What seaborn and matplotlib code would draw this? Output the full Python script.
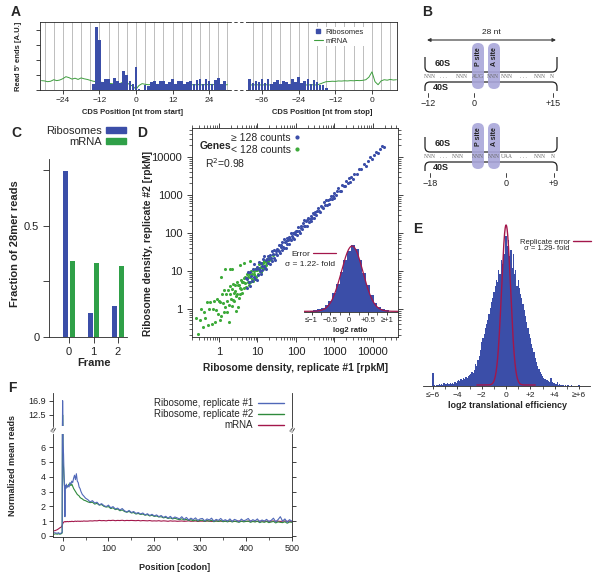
import numpy as np
import pandas as pd
import matplotlib
matplotlib.use("Agg")
import matplotlib.pyplot as plt
import seaborn as sns
from matplotlib.lines import Line2D
from matplotlib.patches import FancyBboxPatch, PathPatch, Patch
from matplotlib.path import Path
from matplotlib.ticker import LogLocator, NullFormatter, FixedLocator

# ---------------- data ----------------
# Panel A: read 5' ends around start / stop codons
a_start_pos = list(range(-14, 30))
a_start_ribo = [.40, 4.15, 3.30, .55, .75, .75, .40, .80, .60, .45,
                1.25, 1.00, .60, .40, 1.55, .05, .00, .30, .25, .50,
                .60, .40, .60, .60, .40, .55, .70, .40, .60, .60,
                .40, .55, .60, .40, .65, .70, .40, .70, .60, .40,
                .65, .80, .40, .60]
a_start_mrna_pos = list(range(-31, 31))
a_start_mrna = [.62, .60, .55, .58, .68, .62, .66, .75, .88, .82,
                .72, .78, .70, .80, .74, .70, .64, .58, .55, .52,
                .50, .48, .45, .42, .40, .38, .45, .55, .48, .35, .25,
                .05, .30, .42, .38, .35, .36, .34, .37, .35, .33,
                .36, .35, .34, .37, .35, .36, .34, .35, .37, .33,
                .36, .35, .34, .36, .35, .37, .34, .35, .36, .34, .35]
a_stop_pos = list(range(-40, -14))
a_stop_ribo = [.75, .45, .60, .50, .70, .45, .75, .40, .55, .65,
               .40, .60, .55, .40, .70, .50, .85, .45, .60, .75,
               .40, .65, .55, .35, .30, .15]
a_stop_mrna_pos = list(range(-40, 9))
a_stop_mrna = [.34, .33, .35, .34, .33, .35, .34, .33, .35, .34,
               .33, .35, .34, .33, .35, .34, .33, .35, .34, .33,
               .35, .34, .33, .40, .48, .55,
               .56, .58, .57, .60, .59, .61, .60, .62, .61, .63,
               .62, .64, .68, .85, 1.20, .55, .35, .60, .68, .65,
               .70, .66, .68]

# Panel B: schematic labels
b_top_seq = ["NNN", ". . .", "NNN", "AUG", "NNN", "NNN", ". . .", "NNN", "N"]
b_bot_seq = ["NNN", ". . .", "NNN", "NNN", "NNN", "UAA", ". . .", "NNN", "N"]
b_top_ticklabels = ["\u221212", "0", "+15"]
b_bot_ticklabels = ["\u221218", "0", "+9"]

# Panel C: frame of 28mer reads
frames = [0, 1, 2]
ribo_frac = [0.745, 0.107, 0.141]
mrna_frac = [0.342, 0.333, 0.317]

# Panel D: replicate scatter (log10 rep#1, log10 ratio rep#2/rep#1)
blue_logx = [0.70, 0.72, 0.74, 0.76, 0.78, 0.80, 0.82, 0.84, 0.86, 0.88, 0.90, 0.92, 0.94, 0.96, 0.98,
             1.00, 1.02, 1.03, 1.05, 1.07, 1.08, 1.10, 1.12, 1.13, 1.15, 1.17, 1.18, 1.20, 1.22, 1.23,
             1.25, 1.27, 1.28, 1.30, 1.32, 1.33, 1.35, 1.37, 1.38, 1.40, 1.42, 1.43, 1.45, 1.47, 1.48,
             1.50, 1.52, 1.53, 1.55, 1.57, 1.58, 1.60, 1.62, 1.63, 1.65, 1.67, 1.68, 1.70, 1.72, 1.73,
             1.75, 1.77, 1.78, 1.80, 1.82, 1.83, 1.85, 1.87, 1.88, 1.90, 1.92, 1.93, 1.95, 1.97, 1.98,
             2.00, 2.02, 2.04, 2.06, 2.08, 2.10, 2.12, 2.14, 2.16, 2.18, 2.20, 2.22, 2.24, 2.26, 2.28,
             2.30, 2.32, 2.34, 2.36, 2.38, 2.40, 2.42, 2.44, 2.46, 2.48,
             2.50, 2.53, 2.55, 2.58, 2.60, 2.63, 2.65, 2.68, 2.70, 2.73, 2.75, 2.78, 2.80, 2.83, 2.85,
             2.88, 2.90, 2.93, 2.95, 2.98,
             3.00, 3.04, 3.07, 3.10, 3.14, 3.17, 3.20, 3.24, 3.27, 3.30, 3.34, 3.37, 3.40, 3.44, 3.47,
             3.52, 3.58, 3.64, 3.70, 3.76, 3.82, 3.88, 3.93, 3.98, 4.03, 4.08, 4.13, 4.18, 4.23, 4.28]
blue_logratio = [.12, -.18, .05, .22, -.08, -.20, .15, .02, -.12, .18, -.05, .25, -.15, .08, -.22,
                 .10, -.14, .03, .18, -.06, -.17, .12, .00, -.10, .15, -.04, .20, -.12, .07, -.19,
                 .05, .13, -.08, .02, -.15, .09, -.02, .16, -.11, .04, -.07, .11, -.16, .06, -.03,
                 .08, -.10, .03, .13, -.05, -.12, .09, .00, -.08, .11, -.03, .15, -.09, .05, -.14,
                 .04, .10, -.06, .02, -.11, .07, -.02, .12, -.08, .03, -.05, .08, -.12, .05, -.02,
                 .06, -.08, .02, .10, -.04, -.09, .07, .00, -.06, .08, -.02, .11, -.07, .04, -.10,
                 .03, .08, -.05, .01, -.08, .05, -.02, .09, -.06, .02,
                 .05, -.06, .02, .08, -.03, -.07, .06, .00, -.05, .07, -.02, .09, -.06, .03, -.08,
                 .02, .06, -.04, .01, -.06,
                 .04, -.05, .02, .07, -.03, -.06, .05, .00, -.04, .06, -.02, .07, -.05, .03, -.06,
                 .03, -.04, .05, -.02, .04, -.05, .02, .06, -.03, .01, .04, -.02, .03, .05, -.01]
green_logx = [-0.60, -0.55, -0.50, -0.46, -0.42, -0.38, -0.35, -0.31, -0.28, -0.25,
              -0.22, -0.19, -0.16, -0.13, -0.10, -0.08, -0.05, -0.03, 0.00, 0.02,
              0.04, 0.06, 0.08, 0.10, 0.12, 0.14, 0.16, 0.18, 0.20, 0.22,
              0.24, 0.26, 0.28, 0.30, 0.31, 0.33, 0.34, 0.36, 0.37, 0.39,
              0.40, 0.42, 0.43, 0.45, 0.46, 0.48, 0.49, 0.51, 0.52, 0.54,
              0.55, 0.57, 0.58, 0.60, 0.61, 0.63, 0.64, 0.66, 0.67, 0.69,
              0.70, 0.72, 0.73, 0.75, 0.76, 0.78, 0.79, 0.81, 0.82, 0.84,
              0.85, 0.87, 0.88, 0.90, 0.91, 0.93, 0.94, 0.96, 0.97, 0.99,
              1.00, 1.02, 1.03, 1.05, 1.06, 1.08, 1.09, 1.11, 1.12, 1.14,
              1.15, 1.17, 1.19, 1.21, 1.23, 1.25, 1.28, 1.31, 1.35, 1.40,
              0.15, 0.35, 0.55, 0.25, 0.65, 0.45, 0.80, 0.05, 0.50, 0.30]
green_logratio = [.35, -.10, .20, .45, -.05, .30, .10, .50, -.15, .25,
                  .40, -.20, .15, .35, -.25, .05, .30, -.10, .20, -.30,
                  .15, -.25, .30, .05, -.20, .35, -.10, .20, .00, -.30,
                  .25, -.15, .10, .30, -.05, -.25, .18, -.12, .28, .02,
                  -.18, .22, .05, -.12, .25, -.08, .15, -.22, .10, .02,
                  -.15, .20, -.05, .12, -.20, .08, .18, -.10, .00, .15,
                  -.12, .10, .18, -.05, .08, -.15, .12, .02, -.10, .15,
                  -.06, .05, -.14, .10, .00, .12, -.08, .06, -.12, .04,
                  .08, -.10, .05, .12, -.06, .02, -.12, .09, -.03, .06,
                  -.09, .10, -.05, .03, -.08, .07, -.02, .05, -.06, .03,
                  .90, .70, .60, -.60, .55, -.50, .45, .80, -.45, .75]
ratio_centers = [-1.0, -0.9, -0.8, -0.7, -0.6, -0.5, -0.4, -0.3, -0.2, -0.1, 0.0,
                 0.1, 0.2, 0.3, 0.4, 0.5, 0.6, 0.7, 0.8, 0.9, 1.0]
ratio_heights = [.02, .03, .04, .06, .10, .17, .28, .42, .60, .78, .92,
                 1.00, .95, .78, .58, .40, .25, .14, .08, .04, .03]
rep_sigma_fold = 1.22

# Panel E: log2 translational efficiency histogram (bins of 0.1 from -6 to +6)
te_heights = ([13] +
              [1, 0, 1, 1, 2, 1, 2, 1, 3, 2, 2, 3, 2, 3] +
              [2, 3, 2, 4, 3, 5] +
              [6, 5, 7, 6, 8, 7, 9, 8, 10, 11] +
              [12, 14, 13, 16, 22, 20, 26, 30, 36, 44] +
              [48, 52, 58, 62, 66, 72, 78, 84, 88, 94] +
              [100, 106, 104, 116, 112, 126, 122, 138, 132, 150] +
              [140, 146, 130, 136, 118, 132, 112, 116, 100, 106] +
              [98, 92, 88, 82, 76, 70, 64, 58, 52, 48] +
              [42, 38, 34, 28, 24, 20, 17, 14, 12, 10] +
              [8, 7, 6, 6, 5, 4, 8, 4, 3, 3] +
              [2, 4, 1, 2, 1] +
              [1, 1, 0, 1, 0, 1, 0, 0, 1, 0, 0, 0, 0, 0, 1])
te_sigma_fold = 1.29

# Panel F: metagene profile
f_pos = [-18, -15, -12, -9, -6, -3, -1, 0, 1, 2, 3, 4, 5, 6, 7, 8, 10, 12, 14, 16,
         18, 20, 22, 24, 26, 28, 30, 32, 34, 36, 38, 40, 43, 46, 50] + list(range(55, 501, 5))
f_rep1 = [.22, .20, .18, .22, .15, .20, .25, 16.9, 6.3, 5.5,
          4.2, 3.3, 1.3, 3.4, 3.2, 3.5, 3.3, 3.4, 3.3, 3.6,
          3.5, 3.7, 3.6, 3.9, 4.1, 3.8, 4.2, 3.7, 3.6, 3.3,
          3.2, 3.0, 2.8, 2.7, 2.55,
          2.45, 2.30, 2.38, 2.22, 2.28, 2.10, 2.18, 2.05, 1.98, 2.08,
          1.90, 1.98, 1.82, 1.88, 1.75, 1.85, 1.70, 1.62, 1.72, 1.58,
          1.65, 1.52, 1.58, 1.48, 1.55, 1.42, 1.50, 1.38, 1.46, 1.35,
          1.42, 1.30, 1.38, 1.25, 1.33, 1.20, 1.32, 1.18, 1.28, 1.22,
          1.15, 1.30, 1.12, 1.25, 1.08, 1.20, 1.10, 1.22, 1.05, 1.15,
          1.18, 1.02, 1.15, 1.08, 1.20, 1.00, 1.12, 1.05, 1.18, 1.02,
          1.10, 1.00, 1.15, 0.98, 1.12, 1.05, 0.96, 1.14, 1.02, 1.08,
          1.18, 0.98, 1.10, 1.02, 1.15, 0.95, 1.08, 1.00, 1.12, 0.98,
          1.05, 1.20, 0.95, 1.10, 1.30, 1.00, 1.15, 0.92, 1.10, 1.00]
f_rep2 = [.12, .15, .12, .15, .12, .15, .20, 12.5, 5.0, 4.6,
          3.9, 3.4, 3.2, 3.3, 3.3, 3.4, 3.3, 3.4, 3.5, 3.5,
          3.4, 3.5, 3.35, 3.2, 3.1, 3.0, 2.9, 2.8, 2.75, 2.7,
          2.6, 2.55, 2.5, 2.42, 2.38,
          2.30, 2.25, 2.28, 2.15, 2.20, 2.08, 2.12, 2.00, 1.95, 1.98,
          1.85, 1.90, 1.78, 1.82, 1.70, 1.76, 1.65, 1.60, 1.66, 1.55,
          1.58, 1.48, 1.52, 1.45, 1.48, 1.40, 1.44, 1.35, 1.40, 1.32,
          1.35, 1.28, 1.30, 1.22, 1.26, 1.18, 1.22, 1.15, 1.20, 1.14,
          1.10, 1.16, 1.08, 1.12, 1.04, 1.10, 1.02, 1.08, 1.00, 1.05,
          1.06, 0.98, 1.04, 1.00, 1.06, 0.96, 1.02, 0.98, 1.04, 0.96,
          1.00, 0.95, 1.02, 0.94, 1.00, 0.96, 0.92, 1.00, 0.95, 0.98,
          1.00, 0.92, 0.98, 0.94, 1.00, 0.90, 0.96, 0.92, 0.98, 0.90,
          0.94, 0.98, 0.88, 0.95, 0.92, 0.90, 0.96, 0.86, 0.94, 0.92]
f_mrna = [.35, .38, .42, .48, .55, .60, .70, .80, .88, .92,
          .95, .96, .97, .95, .97, .96, .98, .96, .97, .98,
          .97, .99, .98, .97, .99, 1.0, .98, 1.0, .99, 1.0,
          .98, 1.0, .99, 1.01, 1.0,
          1.00, 1.02, 1.01, 1.03, 1.02, 1.05, 1.03, 1.04, 1.02, 1.05,
          1.04, 1.06, 1.03, 1.05, 1.04, 1.06, 1.03, 1.05, 1.04, 1.05,
          1.04, 1.03, 1.05, 1.02, 1.04, 1.03, 1.02, 1.04, 1.01, 1.02,
          1.01, 1.03, 1.00, 1.02, 1.01, 0.99, 1.02, 1.00, 1.01, 0.99,
          1.00, 1.01, 0.99, 1.00, 1.02, 0.99, 1.00, 1.01, 0.98, 1.00,
          1.00, 0.99, 1.01, 1.00, 0.98, 1.00, 1.01, 0.99, 1.00, 0.98,
          1.00, 1.01, 0.99, 1.00, 0.98, 1.00, 1.01, 0.99, 1.00, 0.98,
          1.00, 1.01, 0.99, 1.00, 0.98, 1.00, 1.01, 0.99, 1.00, 0.98,
          1.00, 1.01, 0.99, 1.00, 0.98, 1.00, 1.01, 0.99, 1.00, 0.98]

# ---------------- style ----------------
sns.set_style("ticks")
plt.rcParams['font.family'] = ['Liberation Sans', 'DejaVu Sans']
plt.rcParams['axes.linewidth'] = 0.6
for k in ('xtick', 'ytick'):
    plt.rcParams[f'{k}.major.width'] = 0.6
    plt.rcParams[f'{k}.minor.width'] = 0.5
    plt.rcParams[f'{k}.color'] = '#222222'

BLUE = "#3B4EA8"
GREEN_A = "#3E9E3E"
GREEN_C = "#2FA048"
GREEN_D = "#3DAA3A"
GREEN_F = "#2F8A3C"
BLUE_F = "#5068B8"
RED = "#A3174B"
LAV = "#A9A6DA"
DARK = "#222222"

W, H = 600, 580
fig = plt.figure(figsize=(6, 5.8), dpi=100)


def px_axes(l, t, r, b):
    return fig.add_axes([l / W, 1 - b / H, (r - l) / W, (b - t) / H])


def fpt(x, y):
    return (x / W, 1 - y / H)


def ftext(x, y, s, **kw):
    kw.setdefault('va', 'center')
    return fig.text(x / W, 1 - y / H, s, **kw)


def place_label(ax, which, x, y):
    bb = ax.get_position()
    fx = (x / W - bb.x0) / bb.width
    fy = ((1 - y / H) - bb.y0) / bb.height
    if which == 'x':
        ax.xaxis.set_label_coords(fx, fy)
    else:
        ax.yaxis.set_label_coords(fx, fy)


def weighted_hist(ax, centers, heights, lo, hi, nbins, color):
    df = pd.DataFrame({'v': np.asarray(centers, float), 'w': np.asarray(heights, float)})
    sns.histplot(data=df, x='v', weights='w', bins=nbins, binrange=(lo, hi), color=color,
                 alpha=1, linewidth=0, ax=ax)


# ---------------- Panel A ----------------
axA1 = px_axes(40, 22, 228, 90)
axA2 = px_axes(248, 22, 397, 90)
specs = [(axA1, a_start_pos, a_start_ribo, a_start_mrna_pos, a_start_mrna, (-31.5, 30.2), range(-30, 31, 3),
          range(-24, 25, 12), "CDS Position [nt from start]", 133),
         (axA2, a_stop_pos, a_stop_ribo, a_stop_mrna_pos, a_stop_mrna, (-40.6, 8.2), range(-39, 9, 3),
          range(-36, 1, 12), "CDS Position [nt from stop]", 322)]
for ax, pos, ribo, mpos, mrna, xl, grid, ticks, lab, labx in specs:
    for g in grid:
        ax.axvline(g, color='#BDBDBD', lw=0.7, zorder=0)
    sns.lineplot(x=mpos, y=mrna, color=GREEN_A, lw=0.7, ax=ax, zorder=1.5)
    sns.barplot(x=pos, y=ribo, native_scale=True, color=BLUE, saturation=1, width=0.88,
                errorbar=None, linewidth=0, ax=ax, zorder=2)
    ax.set_xlim(*xl)
    ax.set_ylim(0, 4.5)
    ax.set_xticks(list(ticks))
    ax.tick_params(axis='x', labelsize=6, length=3, pad=2)
    ax.set_xlabel(lab, fontsize=5.5, fontweight='bold', va='center')
    place_label(ax, 'x', labx, 113)
    ax.set_ylabel("")
axA1.spines['right'].set_visible(False)
axA1.set_yticks([0, 1, 2, 3, 4])
axA1.set_yticklabels([])
axA1.tick_params(axis='y', length=3)
axA1.set_ylabel("Read 5' ends [A.U.]", fontsize=5.5, fontweight='bold', va='center')
place_label(axA1, 'y', 18, 56)
axA2.spines['left'].set_visible(False)
axA2.set_yticks([])
axA2.legend(handles=[Line2D([], [], marker='s', ls='none', color=BLUE, markersize=3.5),
                     Line2D([], [], color=GREEN_A, lw=0.8)],
            labels=["Ribosomes", "mRNA"], fontsize=5.5, loc='upper left',
            bbox_to_anchor=fpt(312, 27), bbox_transform=fig.transFigure,
            frameon=True, facecolor='white', edgecolor='none', framealpha=1,
            borderpad=0.2, borderaxespad=0, handlelength=1.2, handletextpad=0.4,
            labelspacing=0.2, fancybox=False)
for yy in (22, 90):
    fig.add_artist(Line2D([228 / W, 248 / W], [1 - yy / H, 1 - yy / H], color=DARK, lw=0.6,
                          ls=(0, (4, 3))))

# ---------------- Panel B (schematic) ----------------
axB = px_axes(420, 0, 600, 215)
axB.set_xlim(420, 600)
axB.set_ylim(215, 0)
axB.axis('off')


def u_bracket(ax, x0, x1, y_open, y_line, r=5):
    s = 1 if y_line > y_open else -1
    verts = [(x0, y_open), (x0, y_line - s * r), (x0, y_line), (x0 + r, y_line),
             (x1 - r, y_line), (x1, y_line), (x1, y_line - s * r), (x1, y_open)]
    codes = [Path.MOVETO, Path.LINETO, Path.CURVE3, Path.CURVE3, Path.LINETO,
             Path.CURVE3, Path.CURVE3, Path.LINETO]
    ax.add_patch(PathPatch(Path(verts, codes), fill=False, lw=0.9, color=DARK, zorder=1))


def diagram(ax, dy, seq, seq_x, tick_x, tick_labels):
    for cx, lab in [(478, "P site"), (494, "A site")]:
        ax.add_patch(FancyBboxPatch((cx - 6, 43 + dy), 12, 46, boxstyle="round,pad=0,rounding_size=6",
                                    fc=LAV, ec='none', alpha=0.9, zorder=2))
        ax.text(cx, 57 + dy, lab, rotation=90, ha='center', va='center', fontsize=5,
                fontweight='bold', color=DARK, zorder=4)
    u_bracket(ax, 425, 557, 57 + dy, 72 + dy)
    u_bracket(ax, 425, 557, 91 + dy, 82 + dy)
    ax.text(435, 64 + dy, "60S", fontsize=6.5, fontweight='bold', va='center', color=DARK)
    ax.text(433, 88 + dy, "40S", fontsize=6.5, fontweight='bold', va='center', color=DARK)
    for s, x in zip(seq, seq_x):
        ax.text(x, 77 + dy, s, fontsize=4, ha='center', va='center', color='#666666',
                family='Liberation Serif', zorder=3)
    for x, lab in zip(tick_x, tick_labels):
        ax.plot([x, x], [93 + dy, 97 + dy], color=DARK, lw=0.6)
        ax.text(x, 103 + dy, lab, fontsize=6.5, ha='center', va='center', color=DARK)


diagram(axB, 0, b_top_seq, [430, 443, 462, 478, 493, 507, 523, 540, 552], [428, 474, 553], b_top_ticklabels)
diagram(axB, 80, b_bot_seq, [430, 443, 458, 478, 494, 507, 523, 540, 553], [430, 506, 554], b_bot_ticklabels)
axB.annotate('', xy=(556, 40), xytext=(427, 40),
             arrowprops=dict(arrowstyle='<|-|>', lw=0.8, color='#333333', mutation_scale=5,
                             shrinkA=0, shrinkB=0))
axB.text(491, 33, "28 nt", fontsize=6, ha='center', va='center', color=DARK)

# ---------------- Panel C ----------------
axC = px_axes(49, 159, 127, 337)
dfC = pd.DataFrame({'Frame': frames * 2, 'Fraction': ribo_frac + mrna_frac,
                    'Sample': ['Ribosomes'] * 3 + ['mRNA'] * 3})
sns.barplot(data=dfC, x='Frame', y='Fraction', hue='Sample', palette=[BLUE, GREEN_C], saturation=1,
            width=0.55, gap=0.25, errorbar=None, legend=False, linewidth=0, ax=axC)
axC.set_xlim(-0.82, 2.37)
axC.set_ylim(0, 0.8)
sns.despine(ax=axC)
axC.set_yticks([0, 0.25, 0.5, 0.75], labels=["0", "", "0.5", ""])
axC.tick_params(labelsize=8, length=4, pad=3)
axC.set_xlabel("Frame", fontsize=8, fontweight='bold', va='center')
axC.set_ylabel("Fraction of 28mer reads", fontsize=8, fontweight='bold', va='center')
place_label(axC, 'x', 94, 363)
place_label(axC, 'y', 15, 244)
axC.legend(handles=[Patch(color=BLUE), Patch(color=GREEN_C)], labels=["Ribosomes", "mRNA"],
           fontsize=8, markerfirst=False, frameon=False, loc='upper right',
           bbox_to_anchor=fpt(126, 126), bbox_transform=fig.transFigure, borderpad=0,
           borderaxespad=0, handlelength=1.8, handleheight=0.45, handletextpad=0.4, labelspacing=0.1)

# ---------------- Panel D ----------------
axD = px_axes(192, 128, 398, 337)
axD.set_xscale('log')
axD.set_yscale('log')
gx = np.array(green_logx)
gr = np.array(green_logratio)
bxv = np.array(blue_logx)
brv = np.array(blue_logratio)
sns.scatterplot(x=10 ** gx, y=10 ** (gx + gr), color=GREEN_D, s=5, linewidth=0, ax=axD)
sns.scatterplot(x=10 ** bxv, y=10 ** (bxv + brv), color=BLUE, s=5, linewidth=0, ax=axD)
axD.set_xlim(0.2, 10 ** 4.65)
axD.set_ylim(10 ** -0.74, 10 ** 4.76)
dec = [1, 10, 100, 1000, 10000]
axD.set_xticks(dec, labels=[str(d) for d in dec])
axD.set_yticks(dec, labels=[str(d) for d in dec])
for a in (axD.xaxis, axD.yaxis):
    a.set_minor_locator(LogLocator(base=10, subs=range(2, 10), numticks=20))
    a.set_minor_formatter(NullFormatter())
axD.tick_params(which='both', top=True, right=True, direction='out', labelsize=8)
axD.tick_params(which='major', length=3.5)
axD.tick_params(which='minor', length=2)
axD.set_xlabel("Ribosome density, replicate #1 [rpkM]", fontsize=7.4, fontweight='bold', va='center')
axD.set_ylabel("Ribosome density, replicate #2 [rpkM]", fontsize=7.4, fontweight='bold', va='center')
place_label(axD, 'x', 296, 368)
place_label(axD, 'y', 148, 243)
ftext(200, 146, "Genes", fontsize=7.5, fontweight='bold')
ftext(205, 163, "R$^2$=0.98", fontsize=7.5)
axD.legend(handles=[Line2D([], [], marker='o', ls='none', color=BLUE, markersize=2),
                    Line2D([], [], marker='o', ls='none', color=GREEN_D, markersize=2)],
           labels=["\u2265 128 counts", "< 128 counts"], fontsize=7.5, markerfirst=False,
           frameon=False, loc='upper left', bbox_to_anchor=fpt(231, 133),
           bbox_transform=fig.transFigure, borderpad=0, borderaxespad=0,
           handlelength=0.6, handletextpad=0.3, labelspacing=0.15)

# inset histogram
axI = px_axes(304, 244, 398, 312)
axI.patch.set_alpha(0)
weighted_hist(axI, ratio_centers, ratio_heights, -1.05, 1.05, 21, BLUE)
xs = np.linspace(-1.2, 1.3, 300)
sig = np.log2(rep_sigma_fold)
sns.lineplot(x=xs, y=0.98 * np.exp(-0.5 * ((xs - 0.08) / sig) ** 2) + 0.01, color=RED, lw=0.9, ax=axI)
axI.set_xlim(-1.2, 1.3)
axI.set_ylim(0, 1.02)
sns.despine(ax=axI, left=True)
axI.set_yticks([])
axI.set_ylabel("")
axI.set_xticks([-1, -0.5, 0, 0.5, 1], labels=["\u2264\u22121", "\u22120.5", "0", "+0.5", "\u2265+1"])
axI.xaxis.set_minor_locator(FixedLocator([-0.75, -0.25, 0.25, 0.75]))
axI.tick_params(which='both', labelsize=5.5, length=2, pad=1.5)
axI.set_xlabel("log2 ratio", fontsize=5.5, fontweight='bold', va='center')
place_label(axI, 'x', 350, 330)
axI.legend(handles=[Line2D([], [], color=RED, lw=0.9)], labels=["Error"], fontsize=6,
           markerfirst=False, frameon=False, loc='center right', bbox_to_anchor=fpt(336, 254),
           bbox_transform=fig.transFigure, borderpad=0, borderaxespad=0, handlelength=2.8,
           handletextpad=0.3)
ftext(335, 264, "\u03c3 = 1.22- fold", fontsize=6, ha='right')

# ---------------- Panel E ----------------
axE = px_axes(423, 221, 590, 386)
te_centers = np.linspace(-6.0, 6.0, 121)
weighted_hist(axE, te_centers, te_heights, -6.05, 6.05, 121, BLUE)
xe = np.linspace(-2.4, 2.4, 300)
sige = np.log2(te_sigma_fold)
sns.lineplot(x=xe, y=160 * np.exp(-0.5 * (xe / sige) ** 2) + 1, color=RED, lw=1.0, ax=axE)
axE.set_xlim(-6.83, 6.9)
axE.set_ylim(0, 165)
sns.despine(ax=axE, left=True)
axE.set_yticks([])
axE.set_ylabel("")
axE.set_xticks([-6, -4, -2, 0, 2, 4, 6],
               labels=["\u2264\u22126", "\u22124", "\u22122", "0", "+2", "+4", "\u2265+6"])
axE.xaxis.set_minor_locator(FixedLocator([-5, -3, -1, 1, 3, 5]))
axE.tick_params(which='both', labelsize=6, length=2.5, pad=2)
axE.set_xlabel("log2 translational efficiency", fontsize=6.5, fontweight='bold', va='center')
place_label(axE, 'x', 507, 405)
axE.legend(handles=[Line2D([], [], color=RED, lw=1.0)], labels=["Replicate error"], fontsize=5.5,
           markerfirst=False, frameon=False, loc='center right', bbox_to_anchor=fpt(591, 242),
           bbox_transform=fig.transFigure, borderpad=0, borderaxespad=0, handlelength=2.4,
           handletextpad=0.3)
ftext(569, 249, "\u03c3 = 1.29- fold", fontsize=5.5, ha='right')

# ---------------- Panel F ----------------
axFu = px_axes(53, 393, 292, 426)
axFl = px_axes(53, 434, 292, 537)
for ax in (axFu, axFl):
    sns.lineplot(x=f_pos, y=f_mrna, color=RED, lw=0.8, ax=ax)
    sns.lineplot(x=f_pos, y=f_rep2, color=GREEN_F, lw=0.8, ax=ax)
    sns.lineplot(x=f_pos, y=f_rep1, color=BLUE_F, lw=0.8, ax=ax)
    ax.set_xlim(-21, 500.5)
    ax.set_ylabel("")
axFu.set_ylim(9.1, 19.27)
axFl.set_ylim(-0.07, 6.88)
axFu.spines['bottom'].set_visible(False)
axFu.spines['top'].set_visible(False)
axFu.set_xticks([])
axFu.set_yticks([12.5, 16.9], labels=["12.5", "16.9"])
axFu.tick_params(axis='y', labelsize=6.5, length=3, pad=2)
axFl.spines['top'].set_visible(False)
axFl.set_yticks(range(0, 7))
axFl.set_xticks(range(0, 501, 100))
axFl.xaxis.set_minor_locator(FixedLocator(range(50, 500, 100)))
axFl.tick_params(which='both', labelsize=6.5, length=3, pad=2, right=True, labelright=False)
axFl.tick_params(which='minor', length=2)
axFl.set_xlabel("Position [codon]", fontsize=6.5, fontweight='bold', va='center')
axFl.set_ylabel("Normalized mean reads", fontsize=6.5, fontweight='bold', va='center')
place_label(axFl, 'x', 175, 567)
place_label(axFl, 'y', 13, 466)
for xx in (54, 293):
    ftext(xx, 430, "\u2248", fontsize=8, ha='center', rotation=60, color=DARK)
axFu.legend(handles=[Line2D([], [], color=BLUE_F, lw=1.0), Line2D([], [], color=GREEN_F, lw=1.0),
                     Line2D([], [], color=RED, lw=1.0)],
            labels=["Ribosome, replicate #1", "Ribosome, replicate #2", "mRNA"], fontsize=7,
            markerfirst=False, frameon=False, loc='upper right', bbox_to_anchor=fpt(284, 398),
            bbox_transform=fig.transFigure, borderpad=0, borderaxespad=0, handlelength=2.7,
            handletextpad=0.45, labelspacing=0.12)

# ---------------- panel letters ----------------
for lab, x, y in [("A", 16, 12), ("B", 427, 12), ("C", 16, 133), ("D", 142, 133),
                  ("E", 418, 229), ("F", 12, 388)]:
    ftext(x, y, lab, fontsize=10, fontweight='bold', ha='center')

fig.savefig("out.png", dpi=100)
